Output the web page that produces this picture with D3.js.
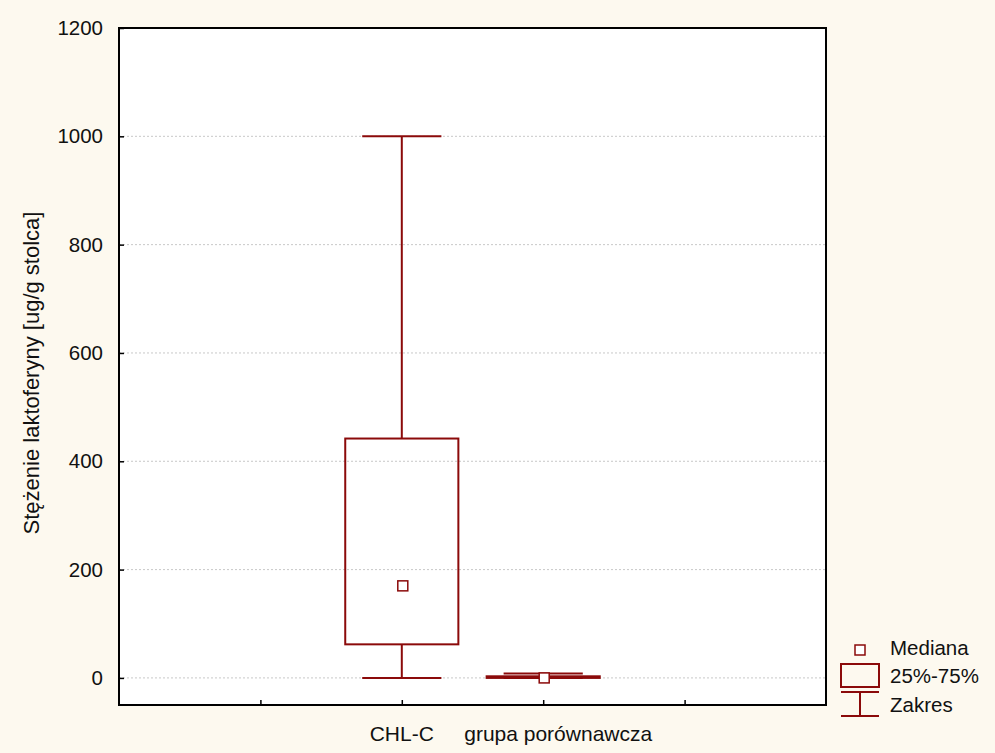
<!DOCTYPE html>
<html>
<head>
<meta charset="utf-8">
<script src="https://cdn.jsdelivr.net/npm/d3@7"></script>
<style>
  html, body { margin: 0; padding: 0; background: #fdf9ef; }
  svg { display: block; }
  text { font-family: Arial, "Liberation Sans", sans-serif; fill: #111; }
</style>
</head>
<body>
<svg id="chart" width="995" height="753"></svg>
<script>
// Groups and their summary statistics
const groups = ["CHL-C", "grupa porównawcza"];
const groupSlot = [2, 3];               // slot on the x axis (of 4 evenly spaced ticks)
const minVals = [0, 0];
const q1Vals = [62, 0];
const medianVals = [170, 0];
const q3Vals = [442, 3];
const maxVals = [1000, 8];

const yTicks = [0, 200, 400, 600, 800, 1000, 1200];
const xTickSlots = [1, 2, 3, 4];
const legendLabels = ["Mediana", "25%-75%", "Zakres"];

const W = 995, H = 753;
const margin = { top: 28, right: 169, bottom: 48, left: 119 };
const innerW = W - margin.left - margin.right;
const innerH = H - margin.top - margin.bottom;
const red = "#8b0a0a";

const svg = d3.select("#chart");
const g = svg.append("g").attr("transform", `translate(${margin.left},${margin.top})`);

const x = d3.scaleLinear().domain([0, 5]).range([0, innerW]);
const y = d3.scaleLinear().domain([-50, 1200]).range([innerH, 0]);
const step = x(1) - x(0);
const boxW = step * 0.8;
const capW = step * 0.56;

// plot background
g.append("rect").attr("width", innerW).attr("height", innerH).attr("fill", "#fff");

// horizontal grid
g.append("g").selectAll("line")
  .data(yTicks.filter(t => t < 1200))
  .join("line")
  .attr("x1", 0).attr("x2", innerW)
  .attr("y1", d => y(d)).attr("y2", d => y(d))
  .attr("stroke", "#c8c8c8").attr("stroke-width", 1)
  .attr("stroke-dasharray", "2,2");

// y axis (ticks pointing inward)
const yAxis = g.append("g")
  .call(d3.axisLeft(y).tickValues(yTicks).tickSize(-5).tickPadding(16).tickFormat(d3.format("d")));
yAxis.select(".domain").remove();
yAxis.selectAll(".tick line").attr("stroke", "#000").attr("stroke-width", 1.5);
yAxis.selectAll(".tick text").style("font-size", "20.5px").attr("fill", "#111");

// x axis ticks (inward) and group labels
const xAxis = g.append("g").attr("transform", `translate(0,${innerH})`)
  .call(d3.axisBottom(x).tickValues(xTickSlots).tickSize(-5).tickFormat(""));
xAxis.select(".domain").remove();
xAxis.selectAll(".tick line").attr("stroke", "#000").attr("stroke-width", 1.5);

const labelShift = [0, 15];
g.append("g").selectAll("text")
  .data(groups)
  .join("text")
  .attr("x", (d, i) => x(groupSlot[i]) + labelShift[i])
  .attr("y", innerH + 36)
  .attr("text-anchor", "middle")
  .style("font-size", "21px")
  .text(d => d);

// box plots
const boxes = g.append("g").selectAll("g")
  .data(groups.map((name, i) => ({
    name, cx: x(groupSlot[i]),
    min: minVals[i], q1: q1Vals[i], med: medianVals[i], q3: q3Vals[i], max: maxVals[i]
  })))
  .join("g");

// whisker stems
boxes.append("line")
  .attr("x1", d => d.cx).attr("x2", d => d.cx)
  .attr("y1", d => y(d.max)).attr("y2", d => y(d.q3))
  .attr("stroke", red).attr("stroke-width", 2);
boxes.append("line")
  .attr("x1", d => d.cx).attr("x2", d => d.cx)
  .attr("y1", d => y(d.q1)).attr("y2", d => y(d.min))
  .attr("stroke", red).attr("stroke-width", 2);
// whisker caps
boxes.append("line")
  .attr("x1", d => d.cx - capW / 2).attr("x2", d => d.cx + capW / 2)
  .attr("y1", d => y(d.max)).attr("y2", d => y(d.max))
  .attr("stroke", red).attr("stroke-width", 2);
boxes.append("line")
  .attr("x1", d => d.cx - capW / 2).attr("x2", d => d.cx + capW / 2)
  .attr("y1", d => y(d.min)).attr("y2", d => y(d.min))
  .attr("stroke", red).attr("stroke-width", 2);
// interquartile box
boxes.append("rect")
  .attr("x", d => d.cx - boxW / 2)
  .attr("width", boxW)
  .attr("y", d => y(d.q3))
  .attr("height", d => Math.max(0, y(d.q1) - y(d.q3)))
  .attr("fill", "none").attr("stroke", red).attr("stroke-width", 2);
// median marker
const mk = 10;
boxes.append("rect")
  .attr("x", d => d.cx - mk / 2 + 1)
  .attr("y", d => y(d.med) - mk / 2)
  .attr("width", mk).attr("height", mk)
  .attr("fill", "#fff").attr("stroke", red).attr("stroke-width", 1.5);

// plot frame
g.append("rect").attr("width", innerW).attr("height", innerH)
  .attr("fill", "none").attr("stroke", "#000").attr("stroke-width", 2);

// y axis title
svg.append("text")
  .attr("transform", `translate(39,373) rotate(-90)`)
  .attr("text-anchor", "middle")
  .style("font-size", "22px")
  .text("Stężenie laktoferyny [ug/g stolca]");

// legend
const lg = svg.append("g");
const lx = 841, lw = 38, tx = 890;
lg.append("rect").attr("x", lx + lw / 2 - 5).attr("y", 645).attr("width", 10).attr("height", 10)
  .attr("fill", "#fff").attr("stroke", red).attr("stroke-width", 1.5);
lg.append("rect").attr("x", lx).attr("y", 664).attr("width", lw).attr("height", 23)
  .attr("fill", "none").attr("stroke", red).attr("stroke-width", 2);
lg.append("line").attr("x1", lx).attr("x2", lx + lw).attr("y1", 692).attr("y2", 692)
  .attr("stroke", red).attr("stroke-width", 2);
lg.append("line").attr("x1", lx).attr("x2", lx + lw).attr("y1", 716).attr("y2", 716)
  .attr("stroke", red).attr("stroke-width", 2);
lg.append("line").attr("x1", lx + lw / 2).attr("x2", lx + lw / 2).attr("y1", 692).attr("y2", 716)
  .attr("stroke", red).attr("stroke-width", 2);
lg.selectAll("text.leg")
  .data(legendLabels)
  .join("text")
  .attr("class", "leg")
  .attr("x", tx)
  .attr("y", (d, i) => [655, 683, 712][i])
  .style("font-size", "20.5px")
  .text(d => d);
</script>
</body>
</html>
